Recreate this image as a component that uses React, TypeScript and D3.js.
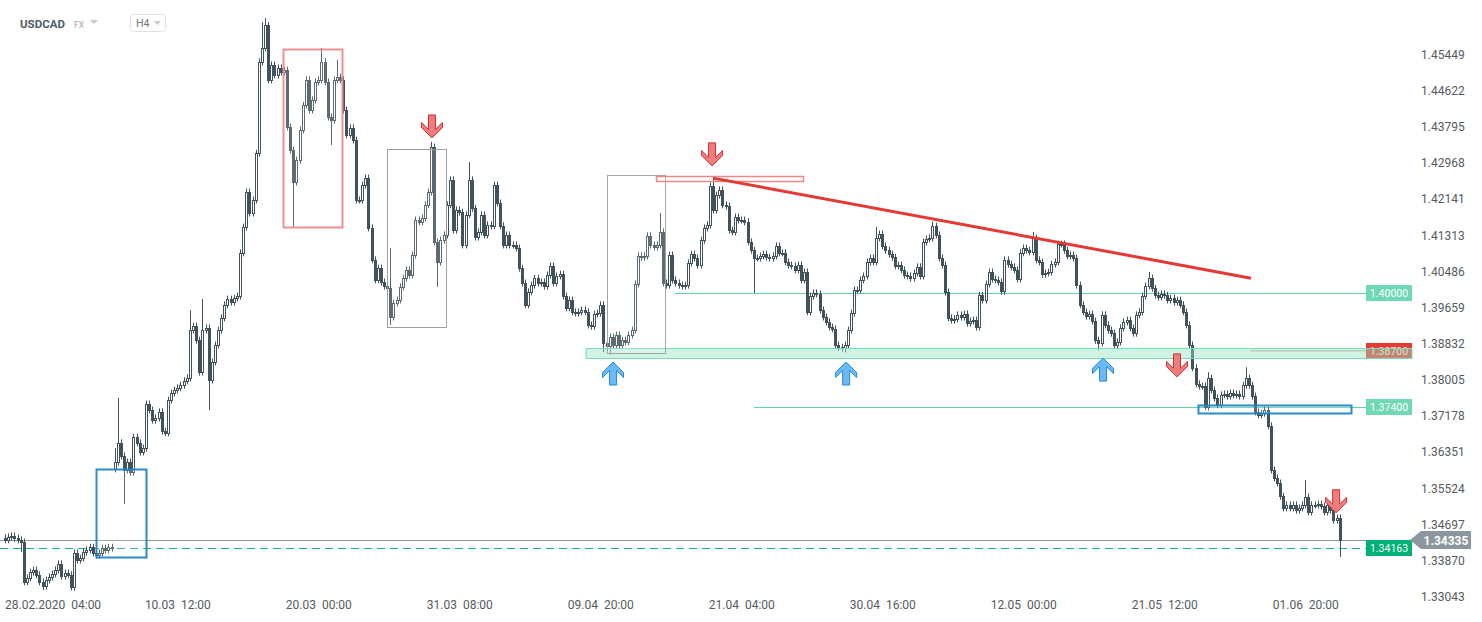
import React from 'react';
import * as d3 from 'd3';

// ---- data (H4 closes) ----
const firstOpen = 1.3440;
const closes = [
  1.3435, 1.3442, 1.3444, 1.3439, 1.3435, 1.3430, 1.3339, 1.3348, 1.3361, 1.3366,
  1.3355, 1.3339, 1.3329, 1.3343, 1.3350, 1.3357, 1.3366, 1.3380, 1.3352, 1.3359,
  1.3355, 1.3327, 1.3405, 1.3389, 1.3393, 1.3407, 1.3412, 1.3418, 1.3405, 1.3400,
  1.3405, 1.3416, 1.3412, 1.3418, 1.3416, 1.3613, 1.3657, 1.3627, 1.3595, 1.3613,
  1.3590, 1.3670, 1.3657, 1.3636, 1.3645, 1.3746, 1.3732, 1.3709, 1.3714, 1.3728,
  1.3684, 1.3680, 1.3755, 1.3771, 1.3778, 1.3783, 1.3789, 1.3799, 1.3806, 1.3915,
  1.3924, 1.3892, 1.3819, 1.3915, 1.3920, 1.3801, 1.3842, 1.3881, 1.3915, 1.3943,
  1.3973, 1.3986, 1.3979, 1.3988, 1.3993, 1.4092, 1.4151, 1.4231, 1.4183, 1.4213,
  1.4320, 1.4529, 1.4561, 1.4613, 1.4488, 1.4522, 1.4499, 1.4515, 1.4506, 1.4510,
  1.4380, 1.4327, 1.4254, 1.4304, 1.4373, 1.4430, 1.4488, 1.4419, 1.4442, 1.4483,
  1.4488, 1.4529, 1.4483, 1.4403, 1.4396, 1.4488, 1.4494, 1.4488, 1.4419, 1.4362,
  1.4378, 1.4350, 1.4213, 1.4213, 1.4247, 1.4263, 1.4149, 1.4076, 1.4030, 1.4057,
  1.4025, 1.4016, 1.4011, 1.3945, 1.3977, 1.3984, 1.4014, 1.4034, 1.4053, 1.4041,
  1.4087, 1.4167, 1.4163, 1.4172, 1.4202, 1.4231, 1.4334, 1.4117, 1.4071, 1.4121,
  1.4133, 1.4202, 1.4259, 1.4144, 1.4190, 1.4185, 1.4110, 1.4179, 1.4259, 1.4194,
  1.4128, 1.4140, 1.4179, 1.4133, 1.4156, 1.4154, 1.4247, 1.4206, 1.4154, 1.4110,
  1.4133, 1.4110, 1.4110, 1.4103, 1.4057, 1.4023, 1.3973, 1.4003, 1.4018, 1.4034,
  1.4023, 1.4025, 1.4016, 1.4041, 1.4062, 1.4023, 1.4039, 1.4043, 1.3993, 1.3966,
  1.3984, 1.3957, 1.3954, 1.3957, 1.3961, 1.3957, 1.3927, 1.3924, 1.3952, 1.3954,
  1.3973, 1.3886, 1.3879, 1.3899, 1.3881, 1.3904, 1.3881, 1.3892, 1.3888, 1.3904,
  1.3915, 1.4021, 1.4085, 1.4082, 1.4085, 1.4131, 1.4110, 1.4105, 1.4110, 1.4140,
  1.4023, 1.4018, 1.4087, 1.4030, 1.4023, 1.4018, 1.4016, 1.4018, 1.4069, 1.4089,
  1.4080, 1.4064, 1.4121, 1.4149, 1.4156, 1.4245, 1.4190, 1.4224, 1.4236, 1.4202,
  1.4199, 1.4144, 1.4140, 1.4174, 1.4167, 1.4167, 1.4163, 1.4117, 1.4098, 1.4080,
  1.4080, 1.4085, 1.4089, 1.4082, 1.4080, 1.4085, 1.4108, 1.4092, 1.4092, 1.4071,
  1.4064, 1.4062, 1.4053, 1.4064, 1.4030, 1.4048, 1.3957, 1.3993, 1.4000, 1.3998,
  1.3961, 1.3945, 1.3934, 1.3922, 1.3918, 1.3881, 1.3876, 1.3874, 1.3881, 1.3915,
  1.3954, 1.4007, 1.4007, 1.4030, 1.4039, 1.4071, 1.4080, 1.4071, 1.4126, 1.4135,
  1.4108, 1.4098, 1.4089, 1.4082, 1.4062, 1.4064, 1.4053, 1.4041, 1.4039, 1.4034,
  1.4046, 1.4060, 1.4039, 1.4117, 1.4124, 1.4126, 1.4153, 1.4133, 1.4080, 1.4064,
  1.4002, 1.3943, 1.3938, 1.3941, 1.3950, 1.3945, 1.3952, 1.3931, 1.3936, 1.3938,
  1.3922, 1.3995, 1.3984, 1.4021, 1.4048, 1.4032, 1.4030, 1.4025, 1.4004, 1.4076,
  1.4066, 1.4060, 1.4053, 1.4032, 1.4092, 1.4103, 1.4098, 1.4094, 1.4126, 1.4076,
  1.4071, 1.4043, 1.4046, 1.4048, 1.4066, 1.4071, 1.4112, 1.4112, 1.4098, 1.4085,
  1.4087, 1.4080, 1.4018, 1.3973, 1.3957, 1.3947, 1.3952, 1.3936, 1.3892, 1.3886,
  1.3950, 1.3927, 1.3915, 1.3908, 1.3881, 1.3888, 1.3920, 1.3934, 1.3938, 1.3920,
  1.3908, 1.3950, 1.3957, 1.3993, 1.4016, 1.4034, 1.4011, 1.3995, 1.3991, 1.3998,
  1.3995, 1.3984, 1.3988, 1.3979, 1.3984, 1.3973, 1.3957, 1.3927, 1.3881, 1.3829,
  1.3792, 1.3787, 1.3787, 1.3739, 1.3805, 1.3778, 1.3760, 1.3744, 1.3767, 1.3769,
  1.3764, 1.3771, 1.3767, 1.3769, 1.3764, 1.3789, 1.3805, 1.3789, 1.3764, 1.3728,
  1.3721, 1.3725, 1.3732, 1.3696, 1.3595, 1.3577, 1.3565, 1.3535, 1.3508, 1.3515,
  1.3508, 1.3515, 1.3503, 1.3508, 1.3515, 1.3533, 1.3499, 1.3515, 1.3515, 1.3517,
  1.3512, 1.3499, 1.3515, 1.3503, 1.3480, 1.3485, 1.34335,
];
// bars that open away from the previous close (weekend gap): [bar, open]
const gapOpens: [number, number][] = [[35, 1.3597]];
// bars whose wick clearly reaches beyond the usual small tail: [bar, price]
const highSpikes: [number, number][] = [
  [35, 1.3645], [36, 1.3760], [59, 1.3961], [63, 1.3986], [82, 1.4620], [83, 1.4629], [84, 1.4620],
  [101, 1.4561], [106, 1.4533], [123, 1.4103], [136, 1.4346], [148, 1.4300], [209, 1.4183],
  [226, 1.4265], [278, 1.4151], [296, 1.4163], [328, 1.4140], [365, 1.4048], [384, 1.3819],
  [396, 1.3830], [415, 1.3572],
];
const lowSpikes: [number, number][] = [
  [5, 1.3407], [12, 1.3320], [38, 1.3517], [65, 1.3732], [92, 1.4151], [104, 1.4339],
  [123, 1.3927], [138, 1.4014], [191, 1.3865], [193, 1.3860], [239, 1.4000], [268, 1.3864],
  [349, 1.3869], [354, 1.3874], [383, 1.3732], [426, 1.3396],
];
const usualTail = 0.0008;

const priceTicks = [1.45449, 1.44622, 1.43795, 1.42968, 1.42141, 1.41313, 1.40486, 1.39659,
  1.38832, 1.38005, 1.37178, 1.36351, 1.35524, 1.34697, 1.33870, 1.33043];
const timeTickIndex = [10, 55, 100, 145, 190, 235, 280, 325, 370, 415];
const timeTickLabels = ['28.02.2020  04:00', '10.03  12:00', '20.03  00:00', '31.03  08:00', '09.04  20:00',
  '21.04  04:00', '30.04  16:00', '12.05  00:00', '21.05  12:00', '01.06  20:00'];

// annotations, in bar index / price
const boxes = [
  { x0: 29.4, x1: 45.3, top: 1.3597, bottom: 1.3396, color: '#1f86c8', w: 2 },
  { x0: 89.1, x1: 107.9, top: 1.4559, bottom: 1.4151, color: '#f08a8a', w: 2 },
  { x0: 122.2, x1: 141.1, top: 1.4330, bottom: 1.3922, color: '#9a9a9a', w: 1 },
  { x0: 192.5, x1: 211.0, top: 1.4270, bottom: 1.3863, color: '#a0a0a0', w: 1 },
  { x0: 208.1, x1: 255.0, top: 1.4268, bottom: 1.4256, color: '#f08080', w: 1.5 },
  { x0: 381.1, x1: 430.0, top: 1.3744, bottom: 1.3725, color: '#1f86c8', w: 2 },
];
const trendLine = { x0: 226.3, p0: 1.4263, x1: 398, p1: 1.4034 };
const supportZone = { x0: 185.8, top: 1.3874, bottom: 1.3851 };
const levels = [
  { price: 1.40000, from: 214.2, label: '1.40000', line: '#5fd2a9', badge: '#6fd8b4' },
  { price: 1.37400, from: 239.4, label: '1.37400', line: '#5fd2a9', badge: '#6fd8b4' },
];
const redLevel = { price: 1.38700, from: 397.7, label: '1.38700' };
const lastPrice = 1.34335;
const bidPrice = 1.34163;
const downArrows: [number, number][] = [[136.6, 1.4355], [226, 1.4291], [374.4, 1.3808], [425.2, 1.3497]];
const upArrows: [number, number][] = [[194.4, 1.3842], [268.8, 1.3842], [350.8, 1.3851]];

const CANDLE = '#40525c';

export default function App() {
  const W = 1482, H = 622;
  const plotRight = 1412;
  const badgeX = 1366;
  const x = d3.scaleLinear().domain([0, closes.length - 1]).range([4, 4 + (closes.length - 1) * 3.133]);
  const y = d3.scaleLinear().domain([1.46707, 1.32973]).range([0, 600]);

  const gapMap = new Map(gapOpens);
  const hiMap = new Map(highSpikes);
  const loMap = new Map(lowSpikes);
  const bars = closes.map((c, i) => {
    const o = gapMap.has(i) ? (gapMap.get(i) as number) : i === 0 ? firstOpen : closes[i - 1];
    const hi = hiMap.has(i) ? (hiMap.get(i) as number) : Math.max(o, c) + usualTail;
    const lo = loMap.has(i) ? (loMap.get(i) as number) : Math.min(o, c) - usualTail;
    return { i, o, c, hi, lo };
  });

  const arrowPts = (cx: number, tip: number, dir: 'down' | 'up') => {
    const s = dir === 'down' ? -1 : 1;
    const pts: [number, number][] = [
      [0, 0], [10.5, 10.5], [10.5, 15.5], [3.5, 8.5], [3.5, 23], [-3.5, 23], [-3.5, 8.5], [-10.5, 15.5], [-10.5, 10.5],
    ];
    return pts.map(([dx, dy]) => `${cx + dx},${tip + s * dy}`).join(' ');
  };

  const font = 'Roboto, "Noto Sans", sans-serif';

  return (
    <svg width={W} height={H} style={{ position: 'absolute', left: 0, top: 0, display: 'block', background: '#fff' }}
      fontFamily={font}>
      <rect x={0} y={0} width={W} height={H} fill="#fff" />

      {/* header */}
      <text x={20} y={28} fontSize={11.5} fontWeight={700} fill="#4d5c67">USDCAD</text>
      <text x={74} y={28} fontSize={8.5} fill="#9aa7ae">FX</text>
      <polygon points="90,20 98,20 94,24" fill="#c3c9cd" />
      <rect x={130.5} y={14.5} width={35} height={17} rx={3} fill="#fff" stroke="#dfe3e6" />
      <text x={136} y={27} fontSize={10.5} fill="#6c7b85">H4</text>
      <polygon points="154,21 161,21 157.5,25" fill="#c3c9cd" />

      {/* level lines */}
      {levels.map((l) => (
        <line key={l.label} x1={x(l.from)} x2={badgeX} y1={Math.round(y(l.price)) + 0.5} y2={Math.round(y(l.price)) + 0.5}
          stroke={l.line} strokeWidth={1} />
      ))}
      <line x1={0} x2={plotRight} y1={Math.round(y(lastPrice)) + 0.5} y2={Math.round(y(lastPrice)) + 0.5}
        stroke="#8d989e" strokeWidth={1} />
      <line x1={0} x2={badgeX} y1={Math.round(y(bidPrice)) + 0.5} y2={Math.round(y(bidPrice)) + 0.5}
        stroke="#19b57e" strokeWidth={1} strokeDasharray="8,5" />

      {/* candles */}
      <g>
        {bars.map((b) => {
          const cx = Math.round(x(b.i));
          const yo = y(b.o), yc = y(b.c);
          const top = Math.round(Math.min(yo, yc));
          const h = Math.max(1, Math.round(Math.abs(yo - yc)));
          const up = b.c >= b.o;
          return (
            <g key={b.i}>
              <line x1={cx + 1.5} x2={cx + 1.5} y1={y(b.hi)} y2={y(b.lo)} stroke={CANDLE} strokeWidth={1} />
              <rect x={cx + 0.5} y={top + 0.5} width={2} height={h} fill={up ? '#ffffff' : CANDLE}
                stroke={CANDLE} strokeWidth={1} />
            </g>
          );
        })}
      </g>

      {/* red level badge below the zone */}
      <rect x={badgeX} y={Math.round(y(redLevel.price)) - 7} width={plotRight - badgeX} height={16} fill="#e53935" />
      <line x1={x(redLevel.from)} x2={badgeX} y1={y(redLevel.price) + 1} y2={y(redLevel.price) + 1}
        stroke="#c89a90" strokeWidth={1} />
      <text x={(badgeX + plotRight) / 2} y={Math.round(y(redLevel.price)) + 5} fontSize={10.5} fill="#f4e4e0"
        textAnchor="middle">{redLevel.label}</text>

      {/* support zone */}
      <rect x={x(supportZone.x0)} y={Math.round(y(supportZone.top)) + 0.5} width={plotRight - x(supportZone.x0)}
        height={Math.round(y(supportZone.bottom) - y(supportZone.top))}
        fill="rgba(150,228,195,0.45)" stroke="#7edbb8" strokeWidth={1} />

      {/* boxes */}
      {boxes.map((bx, k) => (
        <rect key={k} x={Math.round(x(bx.x0)) + 0.5} y={Math.round(y(bx.top)) + 0.5}
          width={Math.round(x(bx.x1) - x(bx.x0))} height={Math.max(2, Math.round(y(bx.bottom) - y(bx.top)))}
          fill="rgba(255,255,255,0.15)" stroke={bx.color} strokeWidth={bx.w} strokeOpacity={0.95} />
      ))}

      {/* trend line */}
      <line x1={x(trendLine.x0)} y1={y(trendLine.p0)} x2={x(trendLine.x1)} y2={y(trendLine.p1)}
        stroke="#e53935" strokeWidth={3} strokeLinecap="butt" />

      {/* arrows */}
      {downArrows.map(([i, p], k) => (
        <polygon key={'d' + k} points={arrowPts(x(i), y(p), 'down')} fill="#ef7d7d" stroke="#d32f2f" strokeWidth={1}
          strokeLinejoin="miter" />
      ))}
      {upArrows.map(([i, p], k) => (
        <polygon key={'u' + k} points={arrowPts(x(i), y(p), 'up')} fill="#6cbaf5" stroke="#1e88e5" strokeWidth={1}
          strokeLinejoin="miter" />
      ))}

      {/* level badges */}
      {levels.map((l) => (
        <g key={'b' + l.label}>
          <rect x={badgeX} y={Math.round(y(l.price)) - 8} width={plotRight - badgeX} height={16} fill={l.badge} />
          <text x={(badgeX + plotRight) / 2} y={Math.round(y(l.price)) + 4} fontSize={10.5} fill="#ffffff"
            textAnchor="middle">{l.label}</text>
        </g>
      ))}
      <rect x={badgeX} y={Math.round(y(bidPrice)) - 8} width={plotRight - badgeX} height={16} fill="#00b074" />
      <text x={(badgeX + plotRight) / 2} y={Math.round(y(bidPrice)) + 4} fontSize={10.5} fill="#ffffff"
        textAnchor="middle">{bidPrice.toFixed(5)}</text>

      {/* price axis */}
      {priceTicks.map((p) => (
        <text key={p} x={1421} y={y(p) + 4} fontSize={12} fill="#555b5f">{p.toFixed(5)}</text>
      ))}
      {(() => {
        const yy = Math.round(y(lastPrice));
        return (
          <g>
            <polygon points={`1410,${yy} 1421,${yy - 9} 1471,${yy - 9} 1471,${yy + 9} 1421,${yy + 9}`} fill="#8b979d" />
            <text x={1446} y={yy + 5} fontSize={12} fontWeight={700} fill="#ffffff" textAnchor="middle">
              {lastPrice.toFixed(5)}</text>
          </g>
        );
      })()}

      {/* time axis */}
      {timeTickIndex.map((ti, k) => {
        const cx = x(ti + 0.5);
        const first = k === 0;
        return (
          <text key={ti} x={first ? 5 : cx} y={609} fontSize={12} fill="#555b5f" textAnchor={first ? 'start' : 'middle'}
            style={{ whiteSpace: 'pre' }}>{timeTickLabels[k]}</text>
        );
      })}
    </svg>
  );
}
